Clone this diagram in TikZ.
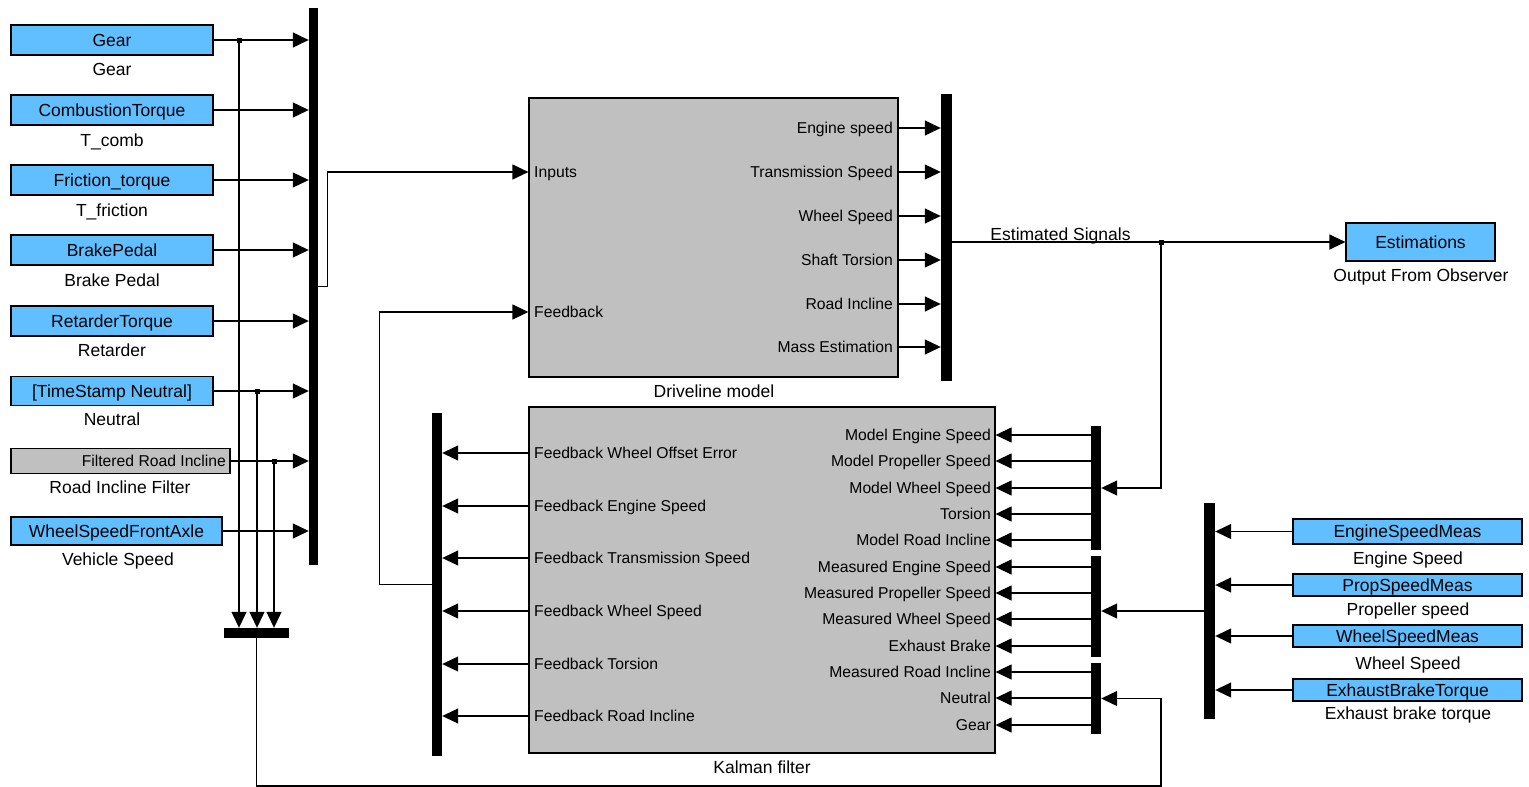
\documentclass[tikz,border=0pt]{standalone}
\usepackage{fontspec}
\setmainfont{Liberation Sans}
\usetikzlibrary{arrows.meta}
\definecolor{sblue}{RGB}{97,190,255}
\definecolor{sgray}{RGB}{192,192,192}
\newcommand\fbig{\fontsize{17.5}{20}\selectfont}
\newcommand\fport{\fontsize{15.7}{18}\selectfont}

\begin{document}
\begin{tikzpicture}[x=1pt,y=-1pt,
  wire/.style={line width=1.2pt},
  arr/.style={wire,-{Triangle[length=16pt,width=15pt]}},
  blk/.style={draw,line width=1.2pt,fill=sblue,inner sep=0pt,font=\fbig,text height=12.5pt,text depth=0pt},
  gblk/.style={draw,line width=1.2pt,fill=sgray,inner sep=0pt},
  busbar/.style={fill=black,draw=none,inner sep=0pt},
  jdot/.style={fill=black,draw=none,inner sep=0pt,minimum size=5pt},
  lbltxt/.style={font=\fbig,inner sep=0pt,text height=12.5pt,text depth=0pt},
  porttxt/.style={font=\fport,inner sep=0pt,text height=11.2pt,text depth=0pt}]

\useasboundingbox (0,0) rectangle (1529,787);

% ---------------- input blocks on the left ----------------
\node[blk,minimum width=202pt,minimum height=30pt] (gear)  at (112,40)  {Gear};
\node[lbltxt] (lgear)  at (112,69)  {Gear};
\node[blk,minimum width=202pt,minimum height=30pt] (comb)  at (112,110) {CombustionTorque};
\node[lbltxt] (lcomb)  at (112,140) {T\_comb};
\node[blk,minimum width=202pt,minimum height=30pt] (fric)  at (112,180) {Friction\_torque};
\node[lbltxt] (lfric)  at (112,210) {T\_friction};
\node[blk,minimum width=202pt,minimum height=30pt] (brake) at (112,250) {BrakePedal};
\node[lbltxt] (lbrake) at (112,280) {Brake Pedal};
\node[blk,minimum width=202pt,minimum height=30pt] (ret)   at (112,321) {RetarderTorque};
\node[lbltxt] (lret)   at (112,350) {Retarder};
\node[blk,minimum width=202pt,minimum height=29pt] (neut)  at (112,391) {[TimeStamp Neutral]};
\node[lbltxt] (lneut)  at (112,419) {Neutral};
\node[gblk,minimum width=219pt,minimum height=25pt] (filt) at (120.5,461) {};
\node[porttxt,anchor=east] (tfilt) at (226,461) {Filtered Road Incline};
\node[lbltxt] (lfilt)  at (120,487) {Road Incline Filter};
\node[blk,minimum width=211pt,minimum height=28pt] (wsfa)  at (116.5,531) {WheelSpeedFrontAxle};
\node[lbltxt] (lwsfa)  at (118,559) {Vehicle Speed};

% input bus
\node[busbar,minimum width=9pt,minimum height=557pt] (mux1) at (313.5,286.5) {};
\foreach \b in {gear,comb,fric,brake,ret,neut,filt,wsfa}
  \draw[arr] (\b.east) -- (\b.east -| mux1.west);

% branches of gear, neutral and road incline to the small bus
\node[busbar,minimum width=65pt,minimum height=10pt] (mux0) at (256.5,633) {};
\node[jdot] (d1) at (239,40)  {};
\node[jdot] (d2) at (257,391) {};
\node[jdot] (d3) at (274,461) {};
\foreach \d in {d1,d2,d3}
  \draw[arr] (\d.center) -- (\d.center |- mux0.north);

% ---------------- driveline model ----------------
\node[gblk,minimum width=369pt,minimum height=279pt] (drv) at (713.5,237.5) {};
\node[lbltxt] (ldrv) at (714,391) {Driveline model};
\node[porttxt,anchor=west] (inp) at (534,172) {Inputs};
\node[porttxt,anchor=west] (fb)  at (534,312) {Feedback};
\node[porttxt,anchor=east] (o1) at (893,128) {Engine speed};
\node[porttxt,anchor=east] (o2) at (893,172) {Transmission Speed};
\node[porttxt,anchor=east] (o3) at (893,216) {Wheel Speed};
\node[porttxt,anchor=east] (o4) at (893,260) {Shaft Torsion};
\node[porttxt,anchor=east] (o5) at (893,304) {Road Incline};
\node[porttxt,anchor=east] (o6) at (893,347) {Mass Estimation};

\draw[arr] (mux1.east) -- ++(9,0) |- (drv.west |- inp.west);

\node[busbar,minimum width=11pt,minimum height=287pt] (mux2) at (946.5,237.5) {};
\foreach \o in {o1,o2,o3,o4,o5,o6}
  \draw[arr] (drv.east |- \o.east) -- (mux2.west |- \o.east);

% ---------------- estimations output ----------------
\node[blk,minimum width=149pt,minimum height=38pt] (est) at (1420.5,242) {Estimations};
\node[lbltxt] (lest) at (1421,275) {Output From Observer};
\node[jdot] (d4) at (1161,242) {};
\draw[arr] (mux2.east |- est.west) -- (est.west);
\node[lbltxt] (sig) at (1060.5,234) {Estimated Signals};

% ---------------- Kalman filter ----------------
\node[gblk,minimum width=466pt,minimum height=346pt] (kal) at (762,580) {};
\node[lbltxt] (lkal) at (762,767) {Kalman filter};

\node[porttxt,anchor=west] (f1) at (534,453) {Feedback Wheel Offset Error};
\node[porttxt,anchor=west] (f2) at (534,506) {Feedback Engine Speed};
\node[porttxt,anchor=west] (f3) at (534,558) {Feedback Transmission Speed};
\node[porttxt,anchor=west] (f4) at (534,611) {Feedback Wheel Speed};
\node[porttxt,anchor=west] (f5) at (534,664) {Feedback Torsion};
\node[porttxt,anchor=west] (f6) at (534,716) {Feedback Road Incline};

\node[busbar,minimum width=10pt,minimum height=343pt] (kb0) at (437,584.5) {};
\foreach \f in {f1,f2,f3,f4,f5,f6}
  \draw[arr] (kal.west |- \f.west) -- (kb0.east |- \f.west);
\draw[arr] (kb0.west) -- ++(-52,0) |- (drv.west |- fb.west);

\node[porttxt,anchor=east] (r1)  at (991,435) {Model Engine Speed};
\node[porttxt,anchor=east] (r2)  at (991,461) {Model Propeller Speed};
\node[porttxt,anchor=east] (r3)  at (991,488) {Model Wheel Speed};
\node[porttxt,anchor=east] (r4)  at (991,514) {Torsion};
\node[porttxt,anchor=east] (r5)  at (991,540) {Model Road Incline};
\node[porttxt,anchor=east] (r6)  at (991,567) {Measured Engine Speed};
\node[porttxt,anchor=east] (r7)  at (991,593) {Measured Propeller Speed};
\node[porttxt,anchor=east] (r8)  at (991,619) {Measured Wheel Speed};
\node[porttxt,anchor=east] (r9)  at (991,646) {Exhaust Brake};
\node[porttxt,anchor=east] (r10) at (991,672) {Measured Road Incline};
\node[porttxt,anchor=east] (r11) at (991,698) {Neutral};
\node[porttxt,anchor=east] (r12) at (991,725) {Gear};

\node[busbar,minimum width=10pt,minimum height=124pt] (kb1) at (1096,488)   {};
\node[busbar,minimum width=10pt,minimum height=101pt] (kb2) at (1096,606.5) {};
\node[busbar,minimum width=10pt,minimum height=71pt]  (kb3) at (1096,698.5) {};

\foreach \r in {r1,r2,r3,r4,r5}
  \draw[arr] (kb1.west |- \r.east) -- (kal.east |- \r.east);
\foreach \r in {r6,r7,r8,r9}
  \draw[arr] (kb2.west |- \r.east) -- (kal.east |- \r.east);
\foreach \r in {r10,r11,r12}
  \draw[arr] (kb3.west |- \r.east) -- (kal.east |- \r.east);

% estimated signals fed back to the filter
\draw[arr] (d4.center) |- (kb1.east);

% gear / neutral / incline bus to the filter
\coordinate (lowR) at (1161,786);
\draw[arr] (mux0.south) |- (lowR) |- (kb3.east);

% ---------------- measurements on the right ----------------
\node[busbar,minimum width=11pt,minimum height=216pt] (kb4) at (1209.5,611) {};
\node[blk,minimum width=229pt,minimum height=25pt] (esm) at (1407.5,531.5) {EngineSpeedMeas};
\node[lbltxt] (lesm) at (1408,558) {Engine Speed};
\node[blk,minimum width=229pt,minimum height=22pt] (psm) at (1407.5,585) {PropSpeedMeas};
\node[lbltxt] (lpsm) at (1408,609) {Propeller speed};
\node[blk,minimum width=229pt,minimum height=22pt] (wsm) at (1407.5,636) {WheelSpeedMeas};
\node[lbltxt] (lwsm) at (1408,663) {Wheel Speed};
\node[blk,minimum width=229pt,minimum height=22pt] (ebt) at (1407.5,690) {ExhaustBrakeTorque};
\node[lbltxt] (lebt) at (1408,713) {Exhaust brake torque};

\foreach \m in {esm,psm,wsm,ebt}
  \draw[arr] (\m.west) -- (kb4.east |- \m.west);
\draw[arr] (kb4.west) -- (kb2.east |- kb4.west);

\end{tikzpicture}
\end{document}
